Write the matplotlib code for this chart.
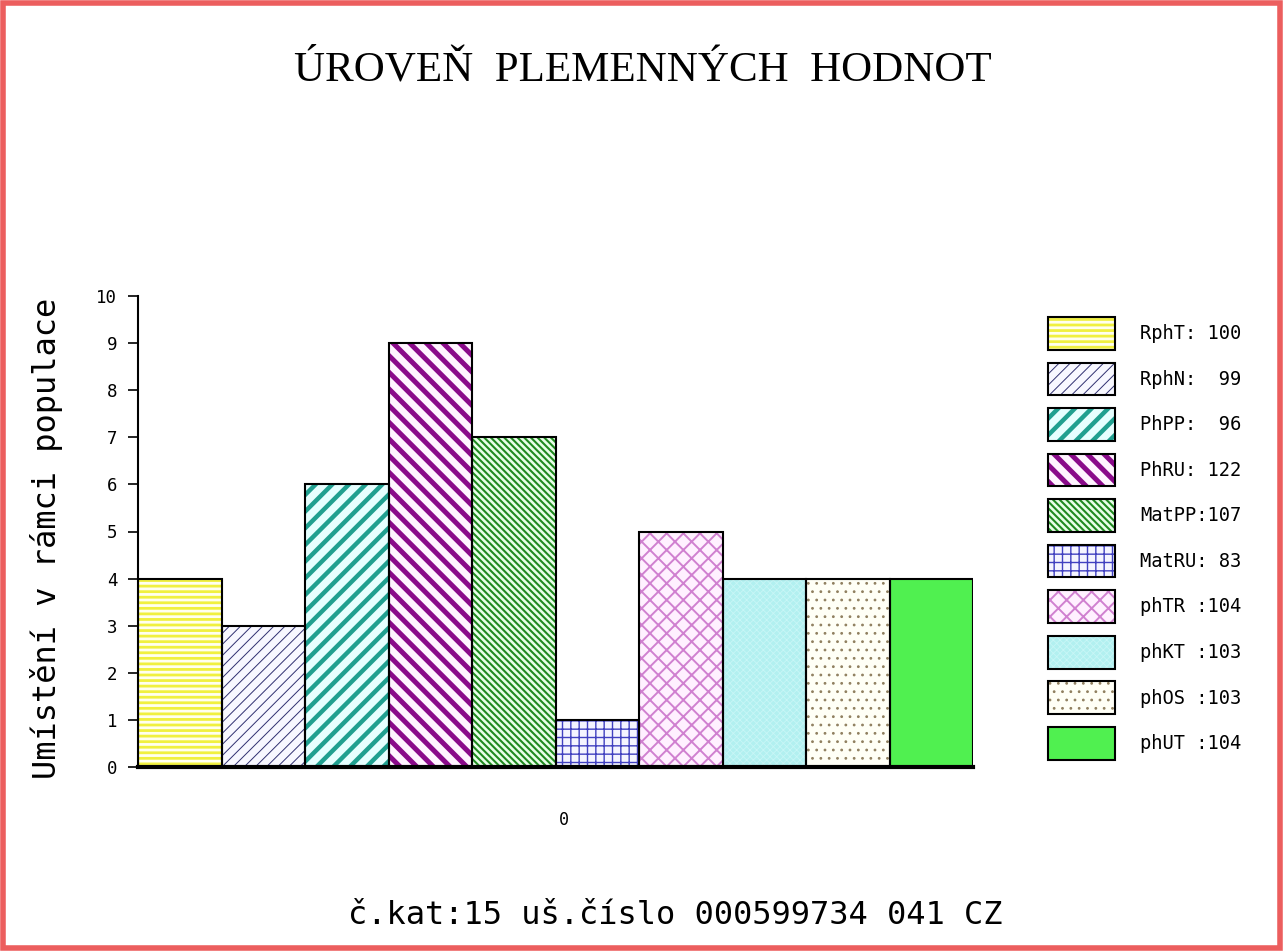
import matplotlib
matplotlib.use("Agg")
import matplotlib.pyplot as plt
import numpy as np
from matplotlib.patches import Patch, Rectangle

# data
codes = ["RphT", "RphN", "PhPP", "PhRU", "MatPP", "MatRU", "phTR", "phKT", "phOS", "phUT"]
legend_labels = ["RphT: 100", "RphN:  99", "PhPP:  96", "PhRU: 122", "MatPP:107",
                 "MatRU: 83", "phTR :104", "phKT :103", "phOS :103", "phUT :104"]
positions = [4, 3, 6, 9, 7, 1, 5, 4, 4, 4]
yticks = list(range(0, 11))

# styling per bar: face, hatch, hatch colour, hatch linewidth
faces = ["#fffff0", "#f8f8ff", "#e6ffff", "#fff4ff", "#e8ffe8",
         "#f4f4ff", "#fff0ff", "#b2f0f0", "#fffff6", "#50f050"]
hatches = ["---", "///", "//", "\\\\", "\\\\\\\\\\", "++", "xx", "xxxxx", "..", ""]
hatch_cols = ["#f0f040", "#303070", "#20a090", "#8a0a8a", "#208a20",
              "#4040c0", "#d080d0", "#c8f6f6", "#908060", "#50f050"]
hatch_lws = [2.0, 0.7, 3.2, 3.6, 1.5, 1.0, 1.4, 0.6, 0.8, 1.0]

mono = "DejaVu Sans Mono"

fig = plt.figure(figsize=(12.83, 9.51), dpi=100)
fig.patch.set_facecolor("white")
ax = fig.add_axes([138 / 1283, 184 / 951, 835 / 1283, 471 / 951])

x = np.arange(len(positions))
for i in range(len(positions)):
    with plt.rc_context({"hatch.linewidth": hatch_lws[i]}):
        b = ax.bar(x[i], positions[i], width=1.0, color=faces[i], edgecolor=hatch_cols[i],
                   hatch=hatches[i], linewidth=0, zorder=2)
    for p in b:
        if hasattr(p, "set_hatch_linewidth"):
            p.set_hatch_linewidth(hatch_lws[i])
ax.bar(x, positions, width=1.0, fill=False, edgecolor="black", linewidth=1.5, zorder=3)

ax.set_xlim(-0.5, len(positions) - 0.5)
ax.set_ylim(0, 10)
ax.set_yticks(yticks)
ax.set_yticklabels([str(t) for t in yticks], fontfamily=mono, fontsize=12.5)
ax.set_xticks([4.6])
ax.set_xticklabels(["0"], fontfamily=mono, fontsize=12)
ax.tick_params(axis="x", length=0, pad=32)
ax.tick_params(axis="y", length=7, width=1.2, pad=8)
for s in ["top", "right"]:
    ax.spines[s].set_visible(False)
ax.spines["left"].set_linewidth(1.5)
ax.spines["bottom"].set_linewidth(3)
ax.spines["bottom"].set_zorder(4)

ax.set_ylabel("Umístění v rámci populace", fontfamily=mono, fontsize=23)
ax.yaxis.label.set_va("center")
ax.yaxis.set_label_coords((47 - 138) / 835, (767 - 538) / 471)

fig.text(0.5013, 1 - 70 / 951, "ÚROVEŇ  PLEMENNÝCH  HODNOT", ha="center", va="center",
         fontfamily="Liberation Serif", fontsize=31)
fig.text(675 / 1283, 1 - 915 / 951, "č.kat:15 uš.číslo 000599734 041 CZ", ha="center",
         va="center", fontfamily=mono, fontsize=23)

# legend: hatched patch overlaid with black outline
handles = []
for i in range(len(codes)):
    h1 = Patch(facecolor=faces[i], edgecolor=hatch_cols[i], hatch=hatches[i], linewidth=0)
    h2 = Patch(fill=False, edgecolor="black", linewidth=1.5)
    handles.append((h1, h2))
leg = fig.legend(handles, legend_labels, loc="upper left",
                 bbox_to_anchor=(1048 / 1283, 1 - 317 / 951),
                 frameon=False, prop={"family": mono, "size": 13.5},
                 handlelength=3.55, handleheight=2.3, labelspacing=0.69,
                 handletextpad=1.35, borderpad=0, borderaxespad=0)

# give the legend swatches the same hatch widths as the bars
hatch_lw_map = dict(zip(hatches, hatch_lws))
for r in leg.findobj(Rectangle):
    h = r.get_hatch()
    if h and h in hatch_lw_map and hasattr(r, "set_hatch_linewidth"):
        r.set_hatch_linewidth(hatch_lw_map[h])

# red frame round the picture
fig.patches.append(Rectangle((0.002, 0.003), 0.996, 0.994, transform=fig.transFigure,
                             fill=False, edgecolor="#ec5e5e", linewidth=4))

fig.savefig("out.png", dpi=100)
